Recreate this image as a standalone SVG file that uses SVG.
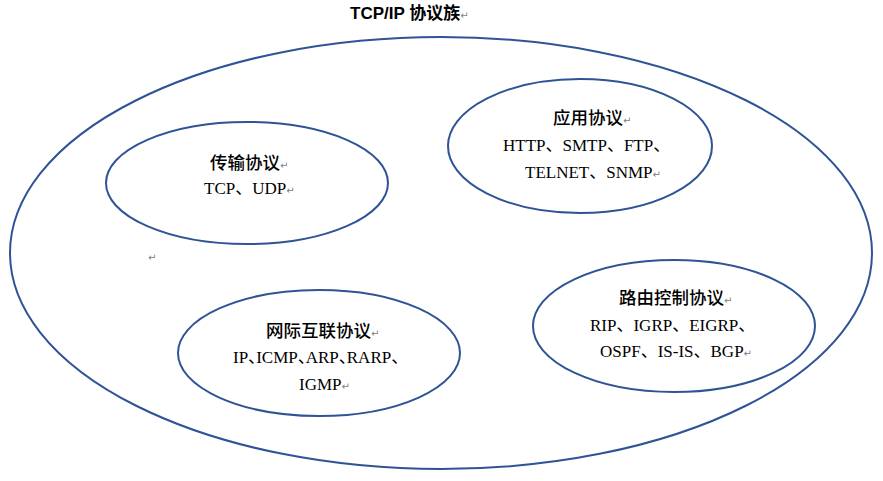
<svg xmlns="http://www.w3.org/2000/svg" width="883" height="481" viewBox="0 0 883 481">
<style>
.el{fill:none;stroke:#2F5496;stroke-width:2}
.t{font-family:"Liberation Serif","Noto Sans CJK SC",serif;font-size:17px;fill:#000}
.h{font-family:"Noto Sans CJK SC",sans-serif;font-size:17.5px;font-weight:500;fill:#000}
.title{font-family:"Liberation Sans","Noto Sans CJK SC",sans-serif;font-size:17px;font-weight:bold;fill:#000}
.pm{font-family:"DejaVu Sans",sans-serif;font-size:10px;fill:#808080;font-weight:normal}
</style>
<rect width="883" height="481" fill="#fff"/>
<g id="suite">
<ellipse class="el" cx="441" cy="253" rx="431" ry="216"/>
<text class="title" x="350" y="19">TCP/IP 协议族<tspan class="pm">↵</tspan></text>
<text class="pm" x="148" y="261">↵</text>
</g>
<g id="transport">
<ellipse class="el" cx="247" cy="183" rx="141" ry="61"/>
<text class="h" x="210" y="169">传输协议<tspan class="pm">↵</tspan></text>
<text class="t" x="204" y="194">TCP、UDP<tspan class="pm">↵</tspan></text>
</g>
<g id="application">
<ellipse class="el" cx="580" cy="146" rx="132" ry="67"/>
<text class="h" x="553" y="124">应用协议<tspan class="pm">↵</tspan></text>
<text class="t" x="503" y="151">HTTP、SMTP、FTP、</text>
<text class="t" x="525" y="178">TELNET、SNMP<tspan class="pm">↵</tspan></text>
</g>
<g id="internet">
<ellipse class="el" cx="319" cy="353" rx="141" ry="63"/>
<text class="h" x="266" y="337">网际互联协议<tspan class="pm">↵</tspan></text>
<text class="t" x="233" y="363">IP、<tspan dx="-9">ICMP、</tspan><tspan dx="-9">ARP、</tspan><tspan dx="-9">RARP、</tspan></text>
<text class="t" x="299" y="390">IGMP<tspan class="pm">↵</tspan></text>
</g>
<g id="routing">
<ellipse class="el" cx="674" cy="326" rx="141" ry="66"/>
<text class="h" x="619" y="304">路由控制协议<tspan class="pm">↵</tspan></text>
<text class="t" x="590" y="331">RIP、IGRP、EIGRP、</text>
<text class="t" x="600" y="357">OSPF、IS-IS、BGP<tspan class="pm">↵</tspan></text>
</g>
<g id="connectors"></g>
</svg>
